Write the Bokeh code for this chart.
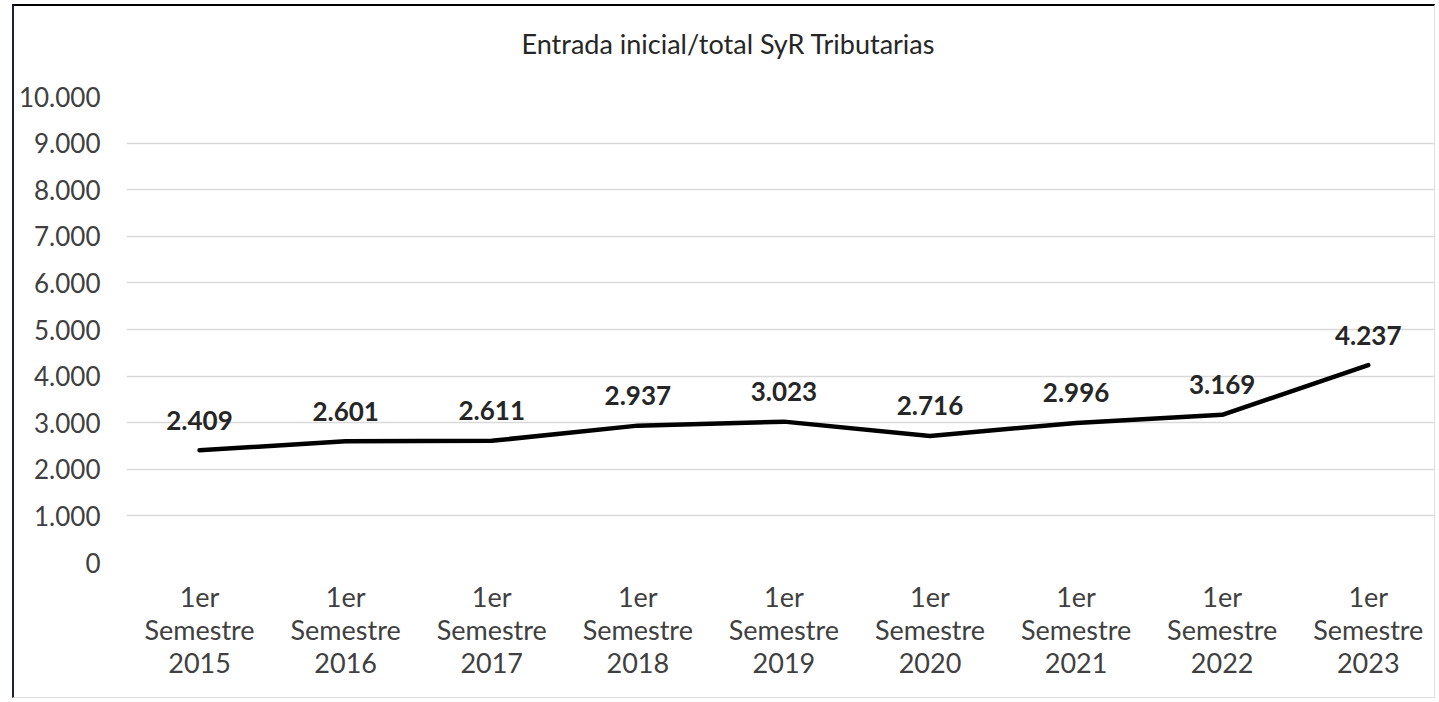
from bokeh.plotting import figure
from bokeh.models import FixedTicker, Range1d, ColumnDataSource, LabelSet, Title
from bokeh.core.properties import value
from bokeh.embed import file_html
from bokeh.resources import INLINE

# ---- data ----
categories = [
    "1er\nSemestre\n2015", "1er\nSemestre\n2016", "1er\nSemestre\n2017",
    "1er\nSemestre\n2018", "1er\nSemestre\n2019", "1er\nSemestre\n2020",
    "1er\nSemestre\n2021", "1er\nSemestre\n2022", "1er\nSemestre\n2023",
]
values = [2409, 2601, 2611, 2937, 3023, 2716, 2996, 3169, 4237]
value_labels = ["2.409", "2.601", "2.611", "2.937", "3.023", "2.716", "2.996", "3.169", "4.237"]
y_ticks = [0, 1000, 2000, 3000, 4000, 5000, 6000, 7000, 8000, 9000, 10000]
y_tick_labels = ["0", "1.000", "2.000", "3.000", "4.000", "5.000", "6.000", "7.000", "8.000", "9.000", "10.000"]
title_text = "Entrada inicial/total SyR Tributarias"

FONT = "Lato"
x_idx = list(range(len(categories)))
src = ColumnDataSource(dict(x=x_idx, y=values, lab=value_labels))

p = figure(
    width=1423, height=694,
    output_backend="svg", toolbar_location=None,
    x_range=Range1d(-0.5, 8.474), y_range=Range1d(0, 10000),
    min_border_left=112, min_border_right=0,
    min_border_top=90, min_border_bottom=138,
    background_fill_color="white", border_fill_color="white",
)
p.outline_line_color = None
p.styles = {"margin-left": "12px", "margin-top": "4px",
            "border-top": "2px solid #000000", "border-left": "2px solid #1c2340",
            "border-right": "1px solid #e0e0e0", "border-bottom": "1px solid #e0e0e0"}

# invisible (white) spacer panel between the frame and the title
spacer = Title(text=".", text_color="white", text_font_size="10px", standoff=25)
p.add_layout(spacer, "above")

title = Title(text=title_text, align="left", offset=395, standoff=0,
              vertical_align="top", text_font=FONT, text_font_size="27px",
              text_font_style="normal", text_color="#262626")
p.add_layout(title, "above")

# y axis
p.yaxis.ticker = FixedTicker(ticks=y_ticks)
p.yaxis.major_label_overrides = {v: s for v, s in zip(y_ticks, y_tick_labels)}
p.yaxis.axis_line_color = None
p.yaxis.major_tick_line_color = None
p.yaxis.minor_tick_line_color = None
p.yaxis.major_label_text_font = FONT
p.yaxis.major_label_text_font_size = "26px"
p.yaxis.major_label_text_color = "#404040"
p.yaxis.major_label_standoff = 20

# x axis
p.xaxis.ticker = FixedTicker(ticks=x_idx)
p.xaxis.major_label_overrides = {i: c for i, c in zip(x_idx, categories)}
p.xaxis.axis_line_color = None
p.xaxis.major_tick_line_color = None
p.xaxis.minor_tick_line_color = None
p.xaxis.major_label_text_font = FONT
p.xaxis.major_label_text_font_size = "27px"
p.xaxis.major_label_text_color = "#404040"
p.xaxis.major_label_standoff = 11
p.xaxis.major_label_text_line_height = 1.0

p.xgrid.grid_line_color = None
p.ygrid.ticker = FixedTicker(ticks=y_ticks)
p.ygrid.grid_line_color = "#d9d9d9"
p.ygrid.grid_line_width = 1.5

p.line("x", "y", source=src, line_color="black", line_width=4.5,
       line_join="round", line_cap="round")

labels = LabelSet(x="x", y="y", text="lab", source=src, text_align="center",
                  text_baseline="middle", y_offset=30, text_font=value(FONT),
                  text_font_size="26px", text_font_style="bold", text_color="#262626")
p.add_layout(labels)

open("out.html", "w").write(file_html(p, INLINE))
